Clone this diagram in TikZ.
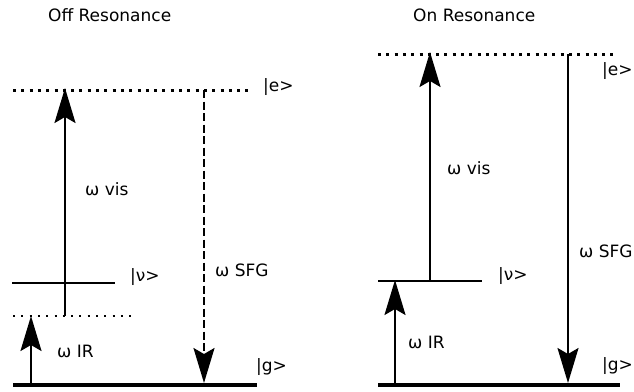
\documentclass[tikz,border=0pt]{standalone}
\usepackage{fontspec}
\setmainfont{DejaVu Sans}
\usetikzlibrary{arrows.meta}
\begin{document}
\begin{tikzpicture}[x=1pt,y=-1pt,
  lbl/.style={anchor=base west,inner sep=0pt,font=\fontsize{17}{20}\selectfont},
  level/.style={line width=2pt},
  ground/.style={line width=4.5pt},
  virt/.style={line width=3pt,dash pattern=on 3pt off 5.3pt},
  virtsmall/.style={line width=2pt,dash pattern=on 2pt off 6.3pt},
  photon/.style={line width=2pt,-{Stealth[length=35pt,width=21pt,inset=6pt]}},
  sfgdash/.style={photon,dash pattern=on 8pt off 3.5pt}]
\useasboundingbox (0,0) rectangle (634,391);
% ---------- Off resonance ----------
\node[lbl] (t1) at (48,21) {Off Resonance};
\coordinate (eL1) at (13,90);  \coordinate (eR1) at (250,90);
\coordinate (vL1) at (12,283); \coordinate (vR1) at (115,283);
\coordinate (dL1) at (13,316); \coordinate (dR1) at (133,316);
\coordinate (gL1) at (13,385); \coordinate (gR1) at (257,385);
\draw[virt] (eL1) -- (eR1);
\draw[level] (vL1) -- (vR1);
\draw[virtsmall] (dL1) -- (dR1);
\draw[ground] (gL1) -- (gR1);
\coordinate (irB1) at (31,385);  \coordinate (irT1) at (31,316);
\coordinate (visB1) at (65,316); \coordinate (visT1) at (65,88);
\coordinate (sfT1) at (204,90);  \coordinate (sfB1) at (204,383);
\draw[photon] (irB1) -- (irT1);
\draw[photon] (visB1) -- (visT1);
\draw[sfgdash] (sfT1) -- (sfB1);
\node[lbl] (e1) at (263,91) {|e>};
\node[lbl] (nu1) at (130,281) {|ν>};
\node[lbl] (g1) at (256,371) {|g>};
\node[lbl] (wv1) at (85,195) {ω vis};
\node[lbl] (wir1) at (57,357) {ω IR};
\node[lbl] (ws1) at (215,276) {ω SFG};
% ---------- On resonance ----------
\node[lbl] (t2) at (413,21) {On Resonance};
\coordinate (eL2) at (378,54);  \coordinate (eR2) at (615,54);
\coordinate (vL2) at (378,281); \coordinate (vR2) at (482,281);
\coordinate (gL2) at (378,385); \coordinate (gR2) at (620,385);
\draw[virt] (eL2) -- (eR2);
\draw[level] (vL2) -- (vR2);
\draw[ground] (gL2) -- (gR2);
\coordinate (irB2) at (395,385);  \coordinate (irT2) at (395,280);
\coordinate (visB2) at (430,281); \coordinate (visT2) at (430,52);
\coordinate (sfT2) at (568,54);   \coordinate (sfB2) at (568,383);
\draw[photon] (irB2) -- (irT2);
\draw[photon] (visB2) -- (visT2);
\draw[photon] (sfT2) -- (sfB2);
\node[lbl] (e2) at (602,75) {|e>};
\node[lbl] (nu2) at (498,280) {|ν>};
\node[lbl] (g2) at (602,370) {|g>};
\node[lbl] (wv2) at (447,174) {ω vis};
\node[lbl] (wir2) at (408,348) {ω IR};
\node[lbl] (ws2) at (579,257) {ω SFG};
\end{tikzpicture}
\end{document}
